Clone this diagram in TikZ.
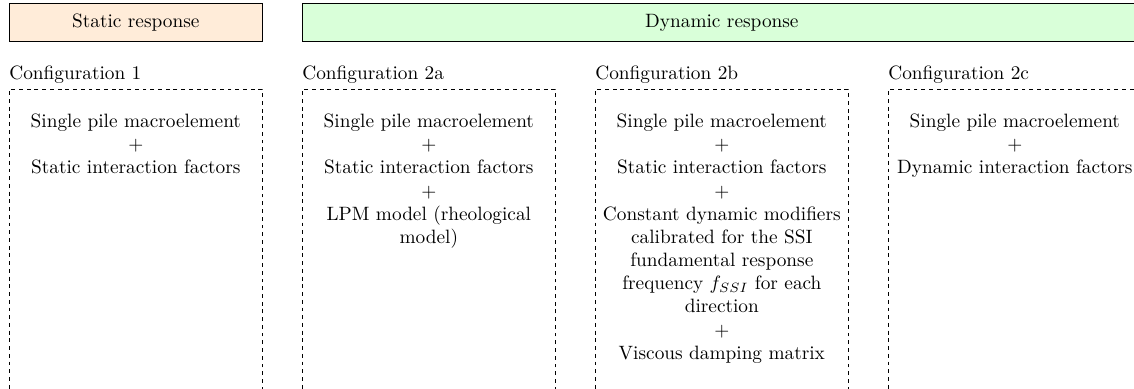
\documentclass[tikz,border=0pt]{standalone}
\usepackage{tikz}
\usetikzlibrary{positioning}

% no word breaks inside the boxes
\hyphenpenalty=10000
\exhyphenpenalty=10000

\begin{document}
\begin{tikzpicture}[x=0.518pt, y=-0.518pt]
% y is negative so that the numbers read like pixel rows

% style
\tikzset{
    headBox/.style={draw, line width=0.4pt, minimum height=19.7pt, anchor=north west, inner sep=0pt},
    cfgBox/.style={draw, dash pattern=on 2pt off 2pt, minimum width=131pt, minimum height=165pt, anchor=north west, inner sep=0pt},
    cfgLabel/.style={anchor=base west, inner sep=0pt},
    cfgText/.style={anchor=north, align=flush center, text width=4.5cm, inner sep=0pt}
}

\useasboundingbox (0,0) rectangle (1134,389);
\clip (0,0) rectangle (1134,389);

% header boxes
\node[headBox, fill=orange!15, minimum width=131pt]   (static)  at (9,3)   {Static response};
\node[headBox, fill=green!15,  minimum width=434.6pt] (dynamic) at (302,3) {Dynamic response};

% configuration boxes
\foreach \name/\x/\tag in {one/9/1, twoa/302/2a, twob/595/2b, twoc/888/2c} {
    \node[cfgBox] (\name) at (\x,89) {};
    \node[cfgLabel] (\name-label) at ([yshift=4.7pt]\name.north west) {Configuration \tag};
}

% contents
\node[cfgText] (one-text)  at ([yshift=-12.7pt]one.north)
    {Single pile macroelement\\ $+$\\ Static interaction factors};
\node[cfgText] (twoa-text) at ([yshift=-12.7pt]twoa.north)
    {Single pile macroelement\\ $+$\\ Static interaction factors\\ $+$\\ LPM model (rheological model)};
\node[cfgText] (twob-text) at ([yshift=-12.7pt]twob.north)
    {Single pile macroelement\\ $+$\\ Static interaction factors\\ $+$\\
     Constant dynamic modifiers calibrated for the SSI fundamental response frequency $f_{SSI}$ for each direction\\
     $+$\\ Viscous damping matrix};
\node[cfgText] (twoc-text) at ([yshift=-12.7pt]twoc.north)
    {Single pile macroelement\\ $+$\\ Dynamic interaction factors};

\end{tikzpicture}
\end{document}
